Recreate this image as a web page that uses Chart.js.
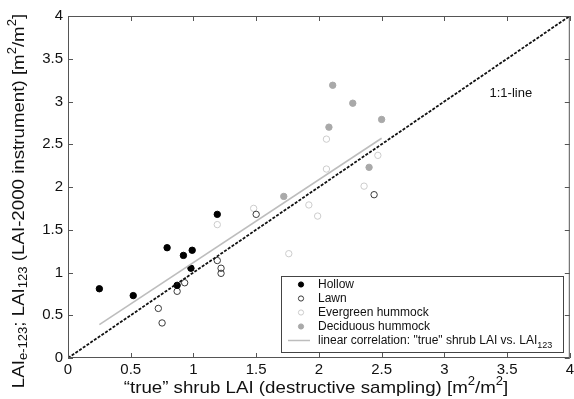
<!DOCTYPE html>
<html>
<head>
<meta charset="utf-8">
<script src="https://cdn.jsdelivr.net/npm/chart.js@4"></script>
<style>
  html, body { margin: 0; padding: 0; background: #fff; overflow: hidden; }
  #wrap { width: 574px; height: 399px; position: relative; }
</style>
</head>
<body>
<div id="wrap"><canvas id="laiChart" width="574" height="399"></canvas></div>
<script>
// values: [true shrub LAI, LAI123]
const hollow = [[0.25, 0.81], [0.52, 0.73], [0.79, 1.29], [0.87, 0.85], [0.92, 1.20],
                [0.98, 1.05], [0.99, 1.26], [1.19, 1.68]];
const lawn = [[0.72, 0.58], [0.75, 0.41], [0.87, 0.78], [0.93, 0.88], [1.19, 1.14],
              [1.22, 1.05], [1.22, 0.99], [1.50, 1.68], [2.44, 1.91]];
const evergreen = [[1.19, 1.56], [1.48, 1.75], [1.76, 1.22], [1.92, 1.79], [1.99, 1.66],
                   [2.06, 2.56], [2.06, 2.21], [2.36, 2.01], [2.47, 2.37]];
const deciduous = [[1.72, 1.89], [2.08, 2.70], [2.11, 3.19], [2.27, 2.98], [2.40, 2.23],
                   [2.50, 2.79]];
const fitLine = [[0.25, 0.39], [2.50, 2.57]];
const oneToOne = [[0, 0], [4, 4]];
const axisTicks = [0, 0.5, 1, 1.5, 2, 2.5, 3, 3.5, 4];

const toXY = arr => arr.map(p => ({ x: p[0], y: p[1] }));
const FONT = '"Liberation Sans", Arial, sans-serif';

// draws the box round the plot and the inward ticks on all four sides
const frameTicks = {
    id: 'frameTicks',
    afterDraw(chart) {
        const { ctx, chartArea: a, scales } = chart;
        ctx.save();
        ctx.strokeStyle = '#555';
        ctx.lineWidth = 1;
        ctx.strokeRect(a.left + 0.5, a.top + 0.5, a.right - a.left - 1, a.bottom - a.top - 1);
        ctx.beginPath();
        axisTicks.forEach(v => {
            const px = Math.round(scales.x.getPixelForValue(v)) + 0.5;
            const py = Math.round(scales.y.getPixelForValue(v)) + 0.5;
            ctx.moveTo(px, a.bottom); ctx.lineTo(px, a.bottom - 5);
            ctx.moveTo(px, a.top); ctx.lineTo(px, a.top + 5);
            ctx.moveTo(a.left, py); ctx.lineTo(a.left + 5, py);
            ctx.moveTo(a.right, py); ctx.lineTo(a.right - 5, py);
        });
        ctx.stroke();
        ctx.restore();
    }
};

// text with sub/superscripts, pieces: [text, 'n'|'sub'|'sup'], centred on 0,0
function drawRich(ctx, pieces, size, stretch) {
    let w = 0;
    pieces.forEach(p => {
        const s = p[1] === 'n' ? size : size * 0.7;
        ctx.font = s + 'px ' + FONT;
        w += ctx.measureText(p[0]).width;
    });
    ctx.scale(stretch, 1);
    let x = -w / 2;
    pieces.forEach(p => {
        const s = p[1] === 'n' ? size : size * 0.7;
        ctx.font = s + 'px ' + FONT;
        const dy = p[1] === 'sub' ? size * 0.3 : (p[1] === 'sup' ? -size * 0.38 : 0);
        ctx.fillText(p[0], x, dy);
        x += ctx.measureText(p[0]).width;
    });
}

const legendOrder = ['Hollow', 'Lawn', 'Evergreen hummock', 'Deciduous hummock', 'fit'];

// axis titles, 1:1 label and the legend box
const annotations = {
    id: 'annotations',
    afterDraw(chart) {
        const { ctx, scales } = chart;
        ctx.save();
        ctx.fillStyle = '#111';
        ctx.textBaseline = 'middle';
        ctx.textAlign = 'left';

        // x title
        ctx.save();
        ctx.translate(316, 388);
        drawRich(ctx, [['\u201Ctrue\u201D shrub LAI (destructive sampling) [m', 'n'], ['2', 'sup'],
                       ['/m', 'n'], ['2', 'sup'], [']', 'n']], 17, 1.1);
        ctx.restore();

        // y title
        ctx.save();
        ctx.translate(19, 201);
        ctx.rotate(-Math.PI / 2);
        drawRich(ctx, [['LAI', 'n'], ['e-123', 'sub'], ['; LAI', 'n'], ['123', 'sub'],
                       [' (LAI-2000 instrument) [m', 'n'], ['2', 'sup'], ['/m', 'n'],
                       ['2', 'sup'], [']', 'n']], 17, 1.1);
        ctx.restore();

        // 1:1 label
        ctx.font = '13px ' + FONT;
        ctx.textAlign = 'center';
        ctx.fillText('1:1-line', scales.x.getPixelForValue(3.53), scales.y.getPixelForValue(3.1));

        // legend
        const lx = 281, ly = 276, lw = 282, lh = 76;
        ctx.fillStyle = '#fff';
        ctx.fillRect(lx, ly, lw, lh);
        ctx.strokeStyle = '#444';
        ctx.lineWidth = 1;
        ctx.strokeRect(lx + 0.5, ly + 0.5, lw, lh);
        legendOrder.forEach((name, i) => {
            const d = chart.data.datasets.find(ds => ds.label === name);
            const y = ly + 8.5 + i * 14;
            if (d.type === 'line') {
                ctx.strokeStyle = d.borderColor;
                ctx.lineWidth = 1.5;
                ctx.beginPath();
                ctx.moveTo(288, y); ctx.lineTo(310, y);
                ctx.stroke();
            } else {
                ctx.beginPath();
                ctx.arc(301, y, 2.6, 0, Math.PI * 2);
                ctx.fillStyle = d.backgroundColor;
                ctx.fill();
                ctx.strokeStyle = d.borderColor;
                ctx.lineWidth = 1;
                ctx.stroke();
            }
            ctx.fillStyle = '#111';
            ctx.textAlign = 'left';
            ctx.font = '12px ' + FONT;
            ctx.fillText(d.legend, 318, y);
            if (d.legendSub) {
                const w = ctx.measureText(d.legend).width;
                ctx.font = '9px ' + FONT;
                ctx.fillText(d.legendSub, 318 + w, y + 5);
            }
        });
        ctx.restore();
    }
};

const scatterSet = (label, data, fill, border) => ({
    type: 'scatter', label: label, legend: label, data: toXY(data),
    backgroundColor: fill, borderColor: border, borderWidth: 1,
    pointRadius: 3.2, pointHoverRadius: 3.2
});

new Chart(document.getElementById('laiChart'), {
    data: {
        datasets: [
            {
                type: 'line', label: '1:1', data: toXY(oneToOne),
                borderColor: '#111', borderWidth: 1.8, borderDash: [3, 1.5],
                pointRadius: 0, fill: false
            },
            {
                type: 'line', label: 'fit', legend: 'linear correlation: "true" shrub LAI vs. LAI',
                legendSub: '123', data: toXY(fitLine),
                borderColor: '#bdbdbd', borderWidth: 1.6, pointRadius: 0, fill: false
            },
            scatterSet('Hollow', hollow, '#000', '#000'),
            scatterSet('Lawn', lawn, 'rgba(255,255,255,0)', '#3a3a3a'),
            scatterSet('Evergreen hummock', evergreen, 'rgba(255,255,255,0)', '#cccccc'),
            scatterSet('Deciduous hummock', deciduous, '#a9a9a9', '#a9a9a9')
        ]
    },
    options: {
        responsive: false,
        animation: false,
        layout: { padding: { top: 16, right: 1, bottom: 0, left: 0 } },
        scales: {
            x: {
                type: 'linear', min: 0, max: 4,
                afterBuildTicks: s => { s.ticks = axisTicks.map(v => ({ value: v })); },
                afterFit: s => { s.height = 41; s.paddingLeft = 0; s.paddingRight = 0; },
                grid: { display: false, drawTicks: false },
                border: { display: false },
                ticks: {
                    color: '#111', padding: 3, maxRotation: 0,
                    font: { family: FONT, size: 15 },
                    callback: v => String(v)
                }
            },
            y: {
                type: 'linear', min: 0, max: 4,
                afterBuildTicks: s => { s.ticks = axisTicks.map(v => ({ value: v })); },
                afterFit: s => { s.width = 68; s.paddingTop = 0; s.paddingBottom = 0; },
                grid: { display: false, drawTicks: false },
                border: { display: false },
                ticks: {
                    color: '#111', padding: 5,
                    font: { family: FONT, size: 15 },
                    callback: v => String(v)
                }
            }
        },
        plugins: {
            legend: { display: false },
            tooltip: { enabled: false }
        }
    },
    plugins: [frameTicks, annotations]
});
</script>
</body>
</html>
